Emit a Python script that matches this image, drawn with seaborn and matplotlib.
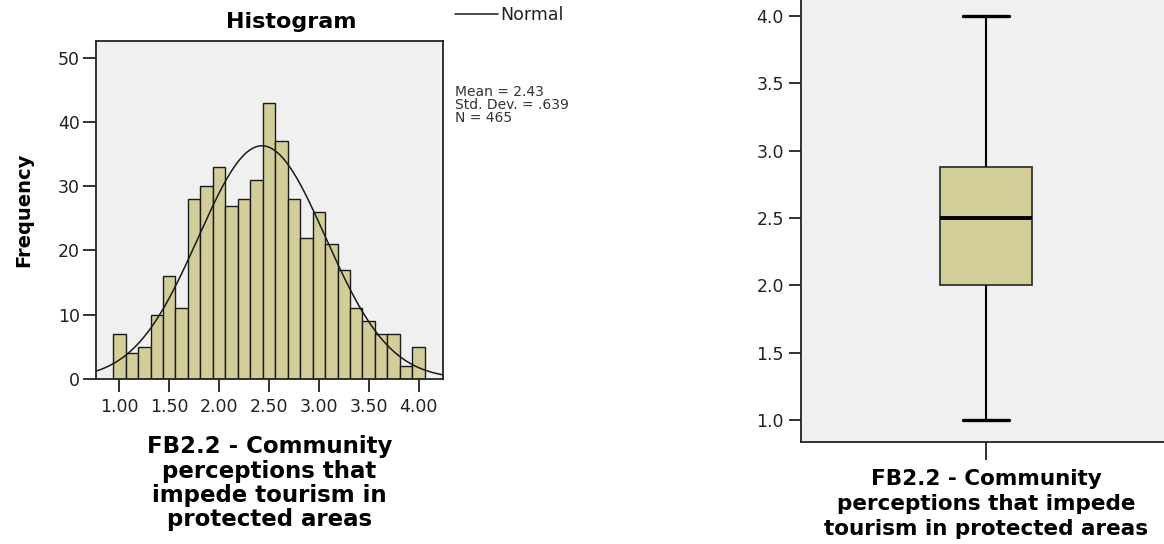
import numpy as np
import matplotlib
matplotlib.use("Agg")
import matplotlib.pyplot as plt
import seaborn as sns

# Scores (mean of items, steps of 1/8) and how often each was seen
SCORE_VALUES = [1.0, 1.125, 1.25, 1.375, 1.5, 1.625, 1.75, 1.875,
                2.0, 2.125, 2.25, 2.375, 2.5, 2.625, 2.75, 2.875,
                3.0, 3.125, 3.25, 3.375, 3.5, 3.625, 3.75, 3.875, 4.0]
SCORE_COUNTS = [7, 4, 5, 10, 16, 11, 28, 30,
                33, 27, 28, 31, 43, 37, 28, 22,
                26, 21, 17, 11, 9, 7, 7, 2, 5]

# Summary shown next to the histogram
MEAN = 2.43
STD_DEV = 0.639
N_CASES = 465

VAR_LABEL_HIST = "FB2.2 - Community\nperceptions that\nimpede tourism in\nprotected areas"
VAR_LABEL_BOX = "FB2.2 - Community\nperceptions that impede\ntourism in protected areas"

HIST_XTICKS = [1.0, 1.5, 2.0, 2.5, 3.0, 3.5, 4.0]
HIST_YTICKS = [0, 10, 20, 30, 40, 50]
BOX_YTICKS = [1.0, 1.5, 2.0, 2.5, 3.0, 3.5, 4.0]

KHAKI = "#D3CE98"
PANEL = "#F0F0F0"
INK = "#222222"

scores = np.repeat(SCORE_VALUES, SCORE_COUNTS)
bin_w = 0.125

sns.set_theme(style="ticks", rc={
    "axes.facecolor": PANEL,
    "axes.edgecolor": "#222222",
    "axes.linewidth": 1.3,
    "xtick.color": INK,
    "ytick.color": INK,
    "xtick.major.width": 1.3,
    "ytick.major.width": 1.3,
})
plt.rcParams["font.family"] = ["DejaVu Sans"]

W, H = 1164, 544
fig = plt.figure(figsize=(W / 100, H / 100), dpi=100)
fig.patch.set_facecolor("white")

# ---- histogram with normal curve ----
ax1 = fig.add_axes([96 / W, 1 - 379 / H, 347 / W, 338 / H])
sns.histplot(x=scores, binwidth=bin_w,
             binrange=(min(SCORE_VALUES) - bin_w / 2, max(SCORE_VALUES) + bin_w / 2),
             color=KHAKI, alpha=1, edgecolor="#1a1a1a", linewidth=1.0, ax=ax1)

x_lo, x_hi = 0.766, 4.245
xs = np.linspace(x_lo, x_hi, 400)
pdf = np.exp(-0.5 * ((xs - MEAN) / STD_DEV) ** 2) / (STD_DEV * np.sqrt(2 * np.pi))
curve, = ax1.plot(xs, N_CASES * bin_w * pdf, color="#1a1a1a", lw=1.1, label="Normal")

ax1.set_xlim(x_lo, x_hi)
ax1.set_ylim(0, 52.6)
ax1.set_xticks(HIST_XTICKS)
ax1.set_xticklabels([f"{t:.2f}" for t in HIST_XTICKS])
ax1.set_yticks(HIST_YTICKS)
ax1.tick_params(axis="both", length=9.4, labelsize=12.5)
ax1.tick_params(axis="x", pad=4)
ax1.tick_params(axis="y", pad=2)

ax1.set_title("Histogram", fontsize=16, fontweight="bold", color="black",
              x=(291 - 96) / 347, y=(379 - 28.3) / 338, pad=0)
ax1.set_ylabel("Frequency", fontsize=14, fontweight="bold", color="black")
ax1.yaxis.set_label_coords((33 - 96) / 347, 0.5)
ax1.set_xlabel(VAR_LABEL_HIST, fontsize=16.5, fontweight="bold", color="black",
               linespacing=1.07)
ax1.xaxis.set_label_coords(0.5, (379 - 435.5) / 338)

fig.legend(handles=[curve], loc="upper left", bbox_to_anchor=(455 / W, 1 - 6 / H),
           frameon=False, borderpad=0, borderaxespad=0, fontsize=12.5,
           handlelength=2.48, handletextpad=0.12, labelcolor="#222222")

fig.text(455 / W, 1 - 84.5 / H,
         f"Mean = {MEAN:.2f}\nStd. Dev. = {STD_DEV:.3f}".replace(" 0.", " .") + f"\nN = {N_CASES}",
         fontsize=10, color="#333333", va="top", ha="left", linespacing=0.95)

# ---- box plot ----
ax2 = fig.add_axes([800.7 / W, 1 - 441.7 / H, 370.6 / W, 446.7 / H])
sns.boxplot(y=scores, ax=ax2, width=0.25, color=KHAKI, saturation=1,
            linecolor="#111111", linewidth=1.5,
            boxprops=dict(edgecolor="#333333", linewidth=1.3),
            medianprops=dict(color="black", linewidth=2.8),
            capprops=dict(color="black", linewidth=2.4),
            whiskerprops=dict(color="black", linewidth=1.5))

ax2.set_xlim(-0.5, 0.5)
ax2.set_ylim(1 - 21.7 / 134.7, 4 + 20.9 / 134.7)
ax2.set_yticks(BOX_YTICKS)
ax2.set_yticklabels([f"{t:.1f}" for t in BOX_YTICKS])
ax2.set_xticks([0])
ax2.set_xticklabels([""])
ax2.tick_params(axis="y", length=9, labelsize=12.5, pad=3)
ax2.tick_params(axis="x", length=13)
ax2.set_ylabel("")
ax2.set_xlabel(VAR_LABEL_BOX, fontsize=15.5, fontweight="bold", color="black",
               linespacing=1.3)
ax2.xaxis.set_label_coords(0.5, (441.7 - 469) / 446.7)

fig.savefig("out.png", dpi=100)
